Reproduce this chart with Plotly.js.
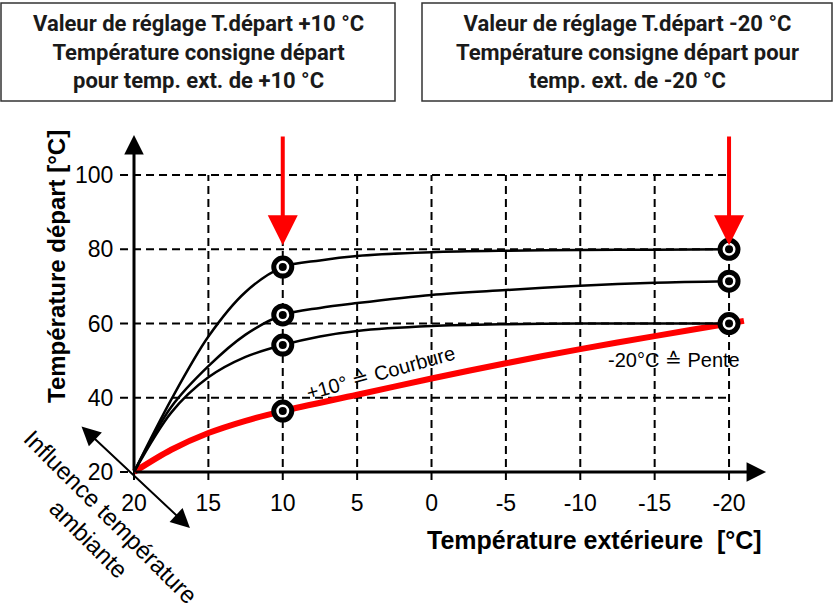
<!DOCTYPE html>
<html>
<head>
<meta charset="utf-8">
<script src="https://cdn.plot.ly/plotly-3.0.1.min.js"></script>
<style>html,body{margin:0;padding:0;background:#fff;}#chart{width:836px;height:611px;}</style>
</head>
<body>
<div id="chart"></div>
<script>
// ---- data ----
const curveX   = [20, 17.5, 15, 12.5, 10, 7.5, 5, 0, -5, -10, -15, -20];
const curveTop = [20, 39.5, 56.5, 68.5, 75.2, 77.0, 78.2, 79.2, 79.6, 79.8, 79.9, 80.0];
const curveMid = [20, 37.5, 48.5, 57.0, 62.3, 64.2, 65.5, 67.7, 69.0, 70.2, 71.0, 71.4];
const curveLow = [20, 36.0, 45.5, 51.0, 54.2, 56.5, 58.0, 59.3, 59.8, 60.0, 60.0, 60.0];
const redX     = [20, 17.5, 15, 12.5, 10, 5, 0, -5, -10, -15, -20, -21];
const redY     = [20, 26.0, 30.5, 33.8, 36.4, 40.8, 45.2, 49.3, 53.1, 56.6, 60.0, 60.7];
const pointX   = [10, 10, 10, 10, -20, -20, -20];
const pointY   = [75.2, 62.3, 54.2, 36.4, 80, 71.4, 60];
const xTickVals = [20, 15, 10, 5, 0, -5, -10, -15, -20];
const xTickText = ['20', '15', '10', '5', '0', '-5', '-10', '-15', '-20'];
const yTickVals = [20, 40, 60, 80, 100];
const yTickText = ['20', '40', '60', '80', '100'];
const arrowSetpoints = [10, -20];
const boxTexts = [
  'Valeur de réglage T.départ +10 °C<br>Température consigne départ<br>pour temp. ext. de +10 °C',
  'Valeur de réglage T.départ -20 °C<br>Température consigne départ pour<br>temp. ext. de -20 °C'
];
const labelCourbure = '+10° ≙ Courbure';
const labelPente = '-20°C ≙ Pente';
const xTitle = 'Température extérieure  [°C]';
const yTitle = 'Température départ [°C]';
const diagTitle = 'Influence température<br>ambiante';

// ---- geometry (axes extents) ----
const W = 836, H = 611;
const xRange = [29.008, -27.19];
const yRange = [-17.44, 147.14];
const origin = {x: 20, y: 20};
const gridEndX = -20, gridTopY = 100;
const tickOutX = 20.94, tickOutY = 17.85;
const dashPat = '8px,5px';

const shapes = [];
yTickVals.forEach(v => {
  shapes.push({type: 'line', xref: 'x', yref: 'y', layer: 'below',
    x0: tickOutX, x1: v === origin.y ? origin.x : gridEndX, y0: v, y1: v,
    line: {color: '#000', width: 2, dash: dashPat}});
});
xTickVals.forEach(v => {
  shapes.push({type: 'line', xref: 'x', yref: 'y', layer: 'below',
    x0: v, x1: v, y0: tickOutY, y1: v === origin.x ? origin.y : gridTopY,
    line: {color: '#000', width: 2, dash: dashPat}});
});
// boxes
const boxes = [[1, 395], [422, 832]];
boxes.forEach(b => {
  shapes.push({type: 'rect', xref: 'paper', yref: 'paper',
    x0: b[0] / W, x1: b[1] / W, y0: 1 - 101 / H, y1: 1 - 3 / H,
    line: {color: '#333', width: 1.5}, fillcolor: 'rgba(0,0,0,0)'});
});

const annotations = [];
boxTexts.forEach((t, i) => {
  annotations.push({xref: 'paper', yref: 'paper', x: (boxes[i][0] + boxes[i][1]) / 2 / W, y: 1 - 52 / H,
    text: t, showarrow: false, xanchor: 'center', yanchor: 'middle', align: 'center',
    font: {family: 'Roboto', size: 22, color: '#1a1a1a', weight: 'bold'}});
});
// axis arrows
annotations.push({x: origin.x, y: 110.8, ax: origin.x, ay: origin.y, axref: 'x', ayref: 'y', xref: 'x', yref: 'y',
  text: '', showarrow: true, arrowhead: 2, arrowwidth: 3, arrowsize: 1.3, arrowcolor: '#000'});
annotations.push({x: -22.49, y: origin.y, ax: origin.x, ay: origin.y, axref: 'x', ayref: 'y', xref: 'x', yref: 'y',
  text: '', showarrow: true, arrowhead: 2, arrowwidth: 3, arrowsize: 1.3, arrowcolor: '#000'});
// red set-point arrows
arrowSetpoints.forEach(v => {
  annotations.push({x: v, y: 81.1, ax: v, ay: 110.8, axref: 'x', ayref: 'y', xref: 'x', yref: 'y',
    text: '', showarrow: true, arrowhead: 2, arrowwidth: 4, arrowsize: 1.5, arrowcolor: '#ff0000'});
});
// diagonal room influence arrow
annotations.push({x: 16.24, y: 4.92, ax: 23.63, ay: 32.66, axref: 'x', ayref: 'y', xref: 'x', yref: 'y',
  text: '', showarrow: true, arrowside: 'end+start', arrowhead: 2, startarrowhead: 2,
  arrowwidth: 2, arrowsize: 1.9, startarrowsize: 1.9, arrowcolor: '#000'});
annotations.push({x: 22.29, y: 4.92, xref: 'x', yref: 'y', text: diagTitle, showarrow: false,
  textangle: 45, xanchor: 'center', yanchor: 'middle', align: 'center',
  font: {family: 'Liberation Sans', size: 24, color: '#000'}});
// curve labels
annotations.push({x: 3.46, y: 46.67, xref: 'x', yref: 'y', text: labelCourbure, showarrow: false,
  textangle: -15.5, xanchor: 'center', yanchor: 'middle',
  font: {family: 'Liberation Sans', size: 20, color: '#000'}});
annotations.push({x: -16.30, y: 50.17, xref: 'x', yref: 'y', text: labelPente, showarrow: false,
  xanchor: 'center', yanchor: 'middle',
  font: {family: 'Liberation Sans', size: 20, color: '#000'}});
// axis titles
annotations.push({xref: 'paper', yref: 'paper', x: 594 / W, y: 1 - 540 / H, text: xTitle, showarrow: false,
  xanchor: 'center', yanchor: 'middle', font: {family: 'Liberation Sans', size: 25, color: '#000', weight: 'bold'}});
annotations.push({xref: 'paper', yref: 'paper', x: 56 / W, y: 1 - 267 / H, text: yTitle, showarrow: false,
  textangle: -90, xanchor: 'center', yanchor: 'middle', font: {family: 'Liberation Sans', size: 24, color: '#000', weight: 'bold'}});

const lineTrace = (x, y, color, width) => ({x: x, y: y, type: 'scatter', mode: 'lines',
  line: {color: color, width: width, shape: 'spline', smoothing: 0.9}, hoverinfo: 'skip', cliponaxis: false});

const data = [
  lineTrace(redX, redY, '#ff0000', 6),
  lineTrace(curveX, curveTop, '#000', 2.5),
  lineTrace(curveX, curveMid, '#000', 2.5),
  lineTrace(curveX, curveLow, '#000', 2.5),
  {x: pointX, y: pointY, type: 'scatter', mode: 'markers', cliponaxis: false,
   marker: {symbol: 'circle', size: 18, color: '#fff', line: {color: '#000', width: 5}}},
  {x: pointX, y: pointY, type: 'scatter', mode: 'markers', cliponaxis: false,
   marker: {symbol: 'circle', size: 8, color: '#000'}}
];

const layout = {
  width: W, height: H,
  margin: {l: 0, r: 0, t: 0, b: 0},
  paper_bgcolor: '#fff', plot_bgcolor: '#fff',
  showlegend: false,
  xaxis: {range: xRange, domain: [0, 1], anchor: 'free', position: (H - 472) / H,
    tickmode: 'array', tickvals: xTickVals, ticktext: xTickText,
    showgrid: false, zeroline: false, showline: false,
    ticks: 'outside', ticklen: 10, tickcolor: 'rgba(0,0,0,0)',
    tickfont: {family: 'Liberation Sans', size: 23, color: '#000'}},
  yaxis: {range: yRange, domain: [0, 1], anchor: 'free', position: 134 / W, side: 'left',
    tickmode: 'array', tickvals: yTickVals, ticktext: yTickText,
    showgrid: false, zeroline: false, showline: false,
    ticks: 'outside', ticklen: 16, tickcolor: 'rgba(0,0,0,0)',
    tickfont: {family: 'Liberation Sans', size: 23, color: '#000'}},
  shapes: shapes,
  annotations: annotations
};

Plotly.newPlot('chart', data, layout, {staticPlot: true, displayModeBar: false});
</script>
</body>
</html>
